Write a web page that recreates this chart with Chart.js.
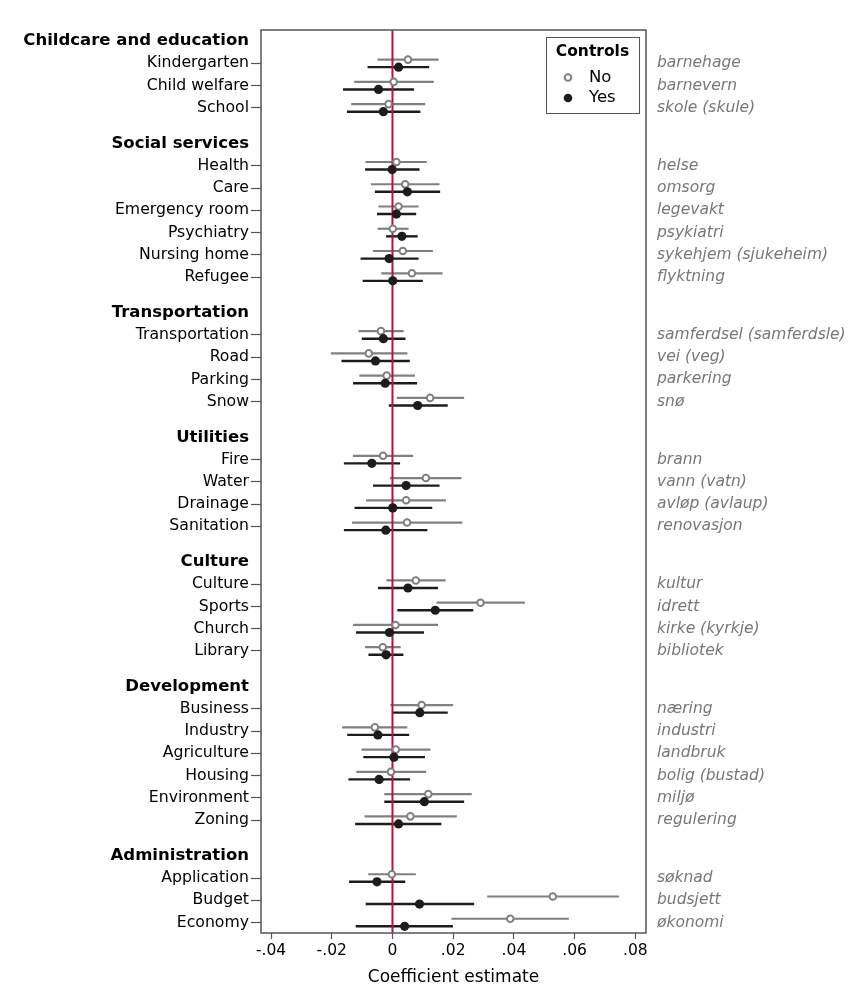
<!DOCTYPE html>
<html>
<head>
<meta charset="utf-8">
<script src="https://cdn.jsdelivr.net/npm/chart.js@4"></script>
<style>
  html, body { margin: 0; padding: 0; background: #fff; }
  #wrap { width: 862px; height: 1000px; }
</style>
</head>
<body>
<div id="wrap"><canvas id="grafico"></canvas></div>
<script>
// Grupos y categorías
const groupNames = ['Childcare and education', 'Social services', 'Transportation', 'Utilities', 'Culture', 'Development', 'Administration'];
const groupSizes = [3, 6, 4, 4, 4, 6, 3];
const itemLabels = ['Kindergarten', 'Child welfare', 'School',
  'Health', 'Care', 'Emergency room', 'Psychiatry', 'Nursing home', 'Refugee',
  'Transportation', 'Road', 'Parking', 'Snow',
  'Fire', 'Water', 'Drainage', 'Sanitation',
  'Culture', 'Sports', 'Church', 'Library',
  'Business', 'Industry', 'Agriculture', 'Housing', 'Environment', 'Zoning',
  'Application', 'Budget', 'Economy'];
const nativeLabels = ['barnehage', 'barnevern', 'skole (skule)',
  'helse', 'omsorg', 'legevakt', 'psykiatri', 'sykehjem (sjukeheim)', 'flyktning',
  'samferdsel (samferdsle)', 'vei (veg)', 'parkering', 'snø',
  'brann', 'vann (vatn)', 'avløp (avlaup)', 'renovasjon',
  'kultur', 'idrett', 'kirke (kyrkje)', 'bibliotek',
  'næring', 'industri', 'landbruk', 'bolig (bustad)', 'miljø', 'regulering',
  'søknad', 'budsjett', 'økonomi'];

// Controls = No
const noEst = [0.0051, 0.0004, -0.0013,
  0.0013, 0.0042, 0.0020, 0.0001, 0.0034, 0.0064,
  -0.0038, -0.0078, -0.0019, 0.0124,
  -0.0031, 0.0110, 0.0045, 0.0048,
  0.0077, 0.0290, 0.0010, -0.0032,
  0.0096, -0.0058, 0.0011, -0.0005, 0.0118, 0.0059,
  -0.0002, 0.0528, 0.0388];
const noLo = [-0.0049, -0.0126, -0.0136,
  -0.0089, -0.0071, -0.0046, -0.0049, -0.0064, -0.0037,
  -0.0112, -0.0203, -0.0109, 0.0014,
  -0.0130, -0.0008, -0.0087, -0.0133,
  -0.0020, 0.0145, -0.0130, -0.0090,
  -0.0007, -0.0166, -0.0102, -0.0119, -0.0027, -0.0092,
  -0.0080, 0.0312, 0.0194];
const noHi = [0.0152, 0.0136, 0.0108,
  0.0113, 0.0155, 0.0086, 0.0053, 0.0133, 0.0165,
  0.0037, 0.0049, 0.0074, 0.0236,
  0.0068, 0.0227, 0.0176, 0.0230,
  0.0175, 0.0436, 0.0150, 0.0027,
  0.0200, 0.0049, 0.0125, 0.0111, 0.0261, 0.0212,
  0.0077, 0.0746, 0.0581];

// Controls = Yes
const yesEst = [0.0020, -0.0046, -0.0030,
  -0.0001, 0.0049, 0.0013, 0.0031, -0.0011, 0.0001,
  -0.0030, -0.0056, -0.0024, 0.0083,
  -0.0068, 0.0045, 0.0001, -0.0022,
  0.0051, 0.0141, -0.0010, -0.0021,
  0.0090, -0.0048, 0.0005, -0.0044, 0.0105, 0.0020,
  -0.0051, 0.0089, 0.0040];
const yesLo = [-0.0082, -0.0163, -0.0150,
  -0.0090, -0.0058, -0.0051, -0.0021, -0.0105, -0.0098,
  -0.0101, -0.0168, -0.0130, -0.0012,
  -0.0160, -0.0064, -0.0125, -0.0160,
  -0.0048, 0.0016, -0.0120, -0.0079,
  0.0001, -0.0149, -0.0096, -0.0145, -0.0027, -0.0123,
  -0.0143, -0.0088, -0.0121];
const yesHi = [0.0121, 0.0071, 0.0092,
  0.0089, 0.0157, 0.0078, 0.0083, 0.0086, 0.0100,
  0.0043, 0.0057, 0.0081, 0.0182,
  0.0025, 0.0155, 0.0131, 0.0115,
  0.0150, 0.0266, 0.0104, 0.0036,
  0.0182, 0.0055, 0.0107, 0.0058, 0.0236, 0.0161,
  0.0042, 0.0269, 0.0199];

// Eje X
const xTicks = [-0.04, -0.02, 0, 0.02, 0.04, 0.06, 0.08];
const xTickLabels = ['-.04', '-.02', '0', '.02', '.04', '.06', '.08'];

const FONT = "'DejaVu Sans', sans-serif";
const GRIS = '#808080';
const NEGRO = '#1c1c1c';
const MARCO = '#555555';

// Posiciones de filas (con hueco para los encabezados)
const itemPos = [];
const headerPos = [];
let p = 1;
groupSizes.forEach(function (n, g) {
  if (g > 0) p += 2.6;
  headerPos.push(p - 1);
  for (let k = 0; k < n; k++) {
    itemPos.push(p);
    if (k < n - 1) p += 1;
  }
});

const leftTicks = [];
headerPos.forEach(function (v, g) { leftTicks.push({ value: v, label: groupNames[g], header: true }); });
itemPos.forEach(function (v, i) { leftTicks.push({ value: v, label: itemLabels[i], header: false }); });
leftTicks.sort(function (a, b) { return a.value - b.value; });

const OFF = 0.17;

// Datasets: puntos primero (se dibujan encima), luego segmentos
const datasets = [];
datasets.push({
  label: 'Yes',
  data: yesEst.map(function (v, i) { return { x: v, y: itemPos[i] + OFF }; }),
  pointRadius: 4.6, pointBackgroundColor: NEGRO, pointBorderColor: NEGRO, pointBorderWidth: 0,
  showLine: false
});
datasets.push({
  label: 'No',
  data: noEst.map(function (v, i) { return { x: v, y: itemPos[i] - OFF }; }),
  pointRadius: 3.3, pointBackgroundColor: '#ffffff', pointBorderColor: GRIS, pointBorderWidth: 2,
  showLine: false
});
yesEst.forEach(function (v, i) {
  datasets.push({
    data: [{ x: yesLo[i], y: itemPos[i] + OFF }, { x: yesHi[i], y: itemPos[i] + OFF }],
    showLine: true, borderColor: NEGRO, borderWidth: 2.4, pointRadius: 0, borderCapStyle: 'butt'
  });
});
noEst.forEach(function (v, i) {
  datasets.push({
    data: [{ x: noLo[i], y: itemPos[i] - OFF }, { x: noHi[i], y: itemPos[i] - OFF }],
    showLine: true, borderColor: GRIS, borderWidth: 2.2, pointRadius: 0, borderCapStyle: 'butt'
  });
});

// Línea vertical en cero, marco y leyenda
const extras = {
  id: 'extras',
  afterDatasetDraw(chart, args) {
    if (args.index !== 2) return;
    const ctx = chart.ctx;
    const a = chart.chartArea;
    const x0 = chart.scales.x.getPixelForValue(0);
    ctx.save();
    ctx.strokeStyle = '#b5123e';
    ctx.lineWidth = 2;
    ctx.beginPath();
    ctx.moveTo(x0, a.top);
    ctx.lineTo(x0, a.bottom);
    ctx.stroke();
    ctx.restore();
  },
  afterDraw(chart) {
    const ctx = chart.ctx;
    const a = chart.chartArea;
    ctx.save();
    ctx.strokeStyle = MARCO;
    ctx.lineWidth = 1.5;
    ctx.strokeRect(a.left, a.top, a.right - a.left, a.bottom - a.top);

    // Leyenda
    const bx = a.right - 100, by = a.top + 7, bw = 93, bh = 76;
    ctx.fillStyle = '#ffffff';
    ctx.fillRect(bx, by, bw, bh);
    ctx.strokeStyle = MARCO;
    ctx.lineWidth = 1;
    ctx.strokeRect(bx + 0.5, by + 0.5, bw, bh);
    ctx.fillStyle = '#000';
    ctx.textBaseline = 'middle';
    ctx.textAlign = 'center';
    ctx.font = 'bold 15.5px ' + FONT;
    ctx.fillText('Controls', bx + bw / 2, by + 15);
    ctx.textAlign = 'left';
    ctx.font = '16.5px ' + FONT;
    ctx.fillText('No', bx + 43, by + 41);
    ctx.fillText('Yes', bx + 43, by + 61);
    ctx.beginPath();
    ctx.arc(bx + 22, by + 40.5, 3.3, 0, Math.PI * 2);
    ctx.fillStyle = '#fff';
    ctx.fill();
    ctx.strokeStyle = GRIS;
    ctx.lineWidth = 2;
    ctx.stroke();
    ctx.beginPath();
    ctx.arc(bx + 22, by + 61, 4.3, 0, Math.PI * 2);
    ctx.fillStyle = NEGRO;
    ctx.fill();
    ctx.restore();
  }
};

const ctx = document.getElementById('grafico').getContext('2d');
new Chart(ctx, {
  type: 'scatter',
  data: { datasets: datasets },
  plugins: [extras],
  options: {
    responsive: true,
    maintainAspectRatio: false,
    animation: false,
    layout: { padding: { top: 30, left: 0, right: 0, bottom: 0 } },
    plugins: {
      legend: { display: false },
      tooltip: { enabled: false }
    },
    scales: {
      x: {
        type: 'linear',
        min: -0.0433,
        max: 0.0835,
        afterBuildTicks: function (scale) {
          scale.ticks = xTicks.map(function (v) { return { value: v }; });
        },
        afterFit: function (scale) { scale.height = 67; },
        ticks: {
          color: '#000',
          font: { family: FONT, size: 15.5 },
          padding: 3,
          maxRotation: 0,
          callback: function (value) {
            const i = xTicks.findIndex(function (t) { return Math.abs(t - value) < 1e-9; });
            return i >= 0 ? xTickLabels[i] : '';
          }
        },
        grid: { drawOnChartArea: false, tickLength: 6, tickColor: MARCO, tickWidth: 1.2 },
        border: { display: false },
        title: {
          display: true,
          text: 'Coefficient estimate',
          color: '#000',
          font: { family: FONT, size: 17 },
          padding: { top: 0, bottom: 12 }
        }
      },
      y: {
        type: 'linear',
        position: 'left',
        reverse: true,
        min: -0.5,
        max: 40.07,
        afterBuildTicks: function (scale) {
          scale.ticks = leftTicks.map(function (t) { return { value: t.value }; });
        },
        afterFit: function (scale) { scale.width = 261; },
        ticks: {
          autoSkip: false,
          padding: 2,
          color: '#000',
          font: function (c) {
            const t = leftTicks[c.index];
            return t && t.header ? { family: FONT, size: 16.5, weight: 'bold' } : { family: FONT, size: 15.7 };
          },
          callback: function (value, index) { return leftTicks[index] ? leftTicks[index].label : ''; }
        },
        grid: {
          drawOnChartArea: false,
          tickLength: 10,
          tickWidth: 1.2,
          tickColor: function (c) {
            const t = leftTicks[c.index];
            return t && t.header ? 'rgba(0,0,0,0)' : MARCO;
          }
        },
        border: { display: false }
      },
      y2: {
        type: 'linear',
        position: 'right',
        reverse: true,
        min: -0.5,
        max: 40.07,
        afterBuildTicks: function (scale) {
          scale.ticks = itemPos.map(function (v) { return { value: v }; });
        },
        afterFit: function (scale) { scale.width = 216; },
        ticks: {
          autoSkip: false,
          padding: 11,
          color: '#777777',
          font: { family: FONT, size: 15.5, style: 'italic' },
          callback: function (value, index) { return nativeLabels[index]; }
        },
        grid: { drawOnChartArea: false, drawTicks: false },
        border: { display: false }
      }
    }
  }
});
</script>
</body>
</html>
